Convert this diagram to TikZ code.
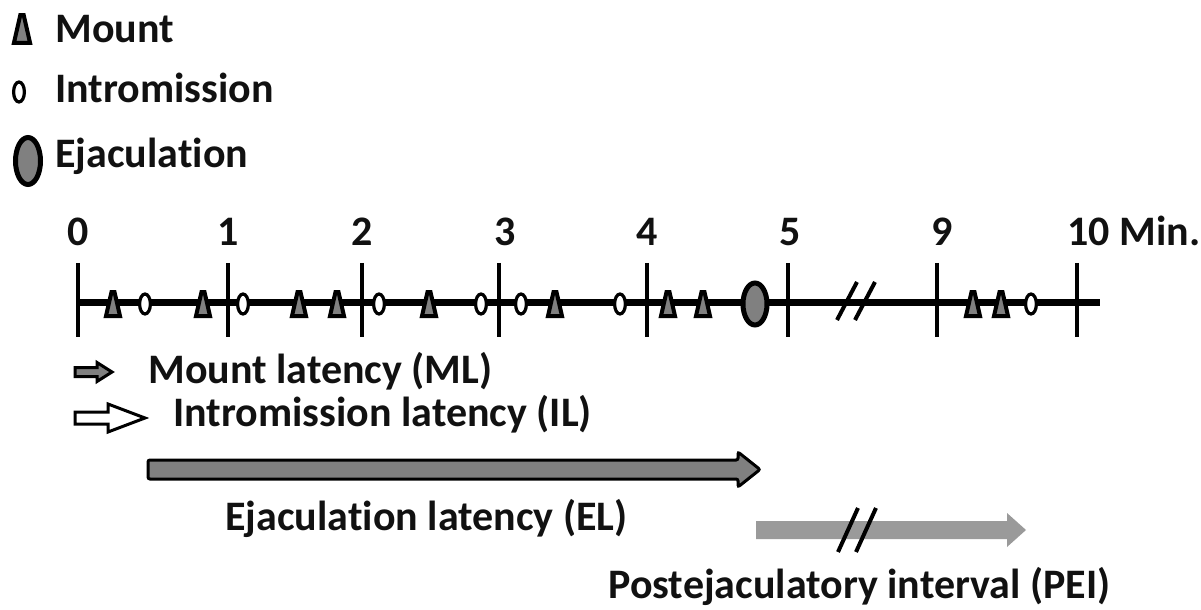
\documentclass[tikz,border=0pt]{standalone}
\usepackage{fontspec}
\setmainfont[Ligatures=NoCommon]{Carlito}
\definecolor{markgray}{HTML}{808080}
\definecolor{peigray}{HTML}{9A9A9A}
\definecolor{ink}{HTML}{111111}
\begin{document}
\begin{tikzpicture}[x=0.5pt,y=-0.5pt,
  txt/.style={font=\fontsize{21}{25}\selectfont\bfseries, inner sep=0pt, anchor=base west, text=ink},
  ticklbl/.style={txt, anchor=base},
  axisline/.style={line width=3.5pt, draw=black},
  tickmark/.style={line width=2pt, draw=black},
  slash/.style={line width=2pt, draw=black},
  mountmk/.pic={\draw[line width=2pt, fill=markgray, line join=miter]
      (-7,12) -- (7,12) -- (1.5,-12) -- (-1.5,-12) -- cycle;},
  intromk/.pic={\draw[line width=1.6pt, fill=white] (0,0) ellipse [x radius=2.7pt, y radius=5pt];},
  ejacmk/.pic={\draw[line width=2.5pt, fill=markgray] (0,0) ellipse [x radius=6pt, y radius=10.5pt];},
]
\useasboundingbox (0,0) rectangle (1201,610);

% ---- legend ----
\pic[scale=1.15] at (22,29) {mountmk};
\node[txt] (lgm) at (55,43) {Mount};
\pic at (19,92) {intromk};
\node[txt] (lgi) at (55,103) {Intromission};
\draw[line width=2.5pt, fill=markgray] (28,161) ellipse [x radius=6.25pt, y radius=11.75pt];
\node[txt] (lge) at (55,168) {Ejaculation};

% ---- time axis ----
\coordinate (a0) at (77,302);
\coordinate (a1) at (1100,302);
\draw[axisline] (a0) -- (a1);
\foreach \x in {78,228,362,499,647,788,937,1077}
  \draw[tickmark] (\x,263) -- (\x,337);
\node[ticklbl] (n0) at (78,246) {0};
\node[ticklbl] (n1) at (228,246) {1};
\node[ticklbl] (n2) at (362,246) {2};
\node[ticklbl] (n3) at (505,246) {3};
\node[ticklbl] (n4) at (647,246) {4};
\node[ticklbl] (n5) at (790,246) {5};
\node[ticklbl] (n9) at (942,246) {9};
\node[txt] (n10) at (1067,246) {10 Min.};
% break in the axis
\draw[slash] (837,320) -- (857,282);
\draw[slash] (855,320) -- (875,282);

% ---- events on the axis ----
\foreach \x in {113,203,299,337,429,555,668,703,973,1001}
  \pic at (\x,304) {mountmk};
\foreach \x in {145,243,379,481,521,620,1031}
  \pic at (\x,304) {intromk};
\pic at (755,304) {ejacmk};

% ---- latency arrows ----
% mount latency
\draw[line width=1.5pt, fill=markgray, line join=miter]
  (75,367.5) -- (97,367.5) -- (97,362.5) -- (112,372) -- (97,381.5) -- (97,376.5) -- (75,376.5) -- cycle;
\node[txt] (ml) at (148,383) {Mount latency (ML)};
% intromission latency
\draw[line width=1.5pt, fill=white, line join=miter]
  (75,412) -- (108,412) -- (108,404) -- (145,418) -- (108,432) -- (108,424) -- (75,424) -- cycle;
\node[txt] (il) at (173,426) {Intromission latency (IL)};
% ejaculation latency
\draw[line width=1.5pt, fill=markgray, line join=miter, rounded corners=1pt]
  (148,460) -- (738,460) -- (738,452) -- (760,469.5) -- (738,487) -- (738,479) -- (148,479) -- cycle;
\node[txt] (el) at (225,530) {Ejaculation latency (EL)};
% postejaculatory interval
\fill[peigray] (756,521) -- (1007,521) -- (1007,513) -- (1026,530) -- (1007,547) -- (1007,539) -- (756,539) -- cycle;
\draw[slash] (838,552) -- (858,508);
\draw[slash] (856,552) -- (876,508);
\node[txt] (pei) at (608,598) {Postejaculatory interval (PEI)};
\end{tikzpicture}
\end{document}
